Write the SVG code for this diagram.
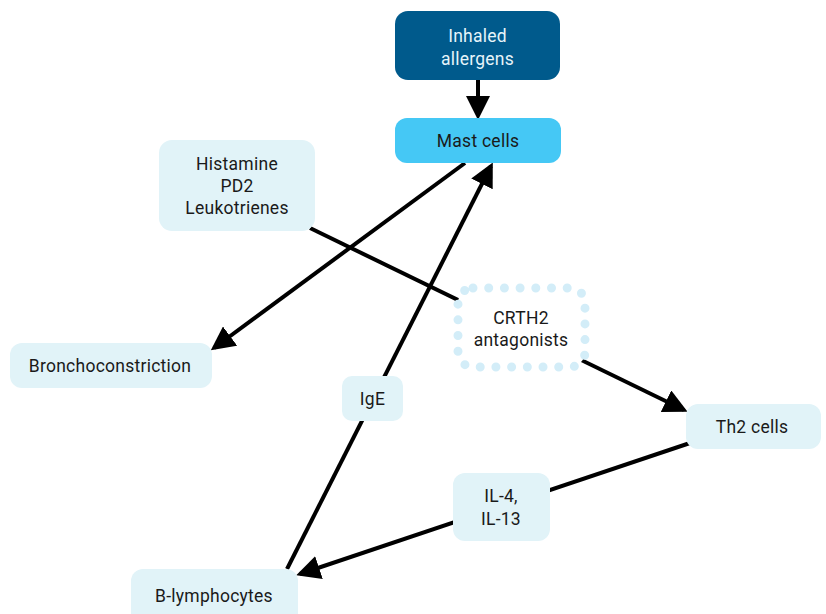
<svg xmlns="http://www.w3.org/2000/svg" width="826" height="614" viewBox="0 0 826 614">
<defs>
<style>
.box{fill:#e1f3f8}
.t{font-family:"Roboto","Liberation Sans",sans-serif;font-size:17.5px;letter-spacing:0.25px;fill:#1a1a1a;text-anchor:middle}
.c{stroke:#000;stroke-width:4;fill:none}
</style>
<marker id="ah" markerWidth="6" markerHeight="6" refX="5" refY="3" orient="auto" markerUnits="strokeWidth">
<path d="M0,0 L6,3 L0,6 z" fill="#000"/>
</marker>
</defs>
<rect width="826" height="614" fill="#fff"/>
<g id="connectors">
<line class="c" x1="478" y1="80" x2="478" y2="116" marker-end="url(#ah)"/>
<line class="c" x1="465" y1="163" x2="214" y2="348" marker-end="url(#ah)"/>
<line class="c" x1="287" y1="569" x2="491" y2="166" marker-end="url(#ah)"/>
<line class="c" x1="310" y1="228" x2="684" y2="410" marker-end="url(#ah)"/>
<line class="c" x1="690" y1="443" x2="300" y2="574" marker-end="url(#ah)"/>
</g>
<g id="inhaled">
<rect x="395" y="11" width="165" height="69" rx="13" fill="#005a8c"/>
<text class="t" x="477.5" y="42" style="fill:#e6f4fa">Inhaled</text>
<text class="t" x="477.5" y="65" style="fill:#e6f4fa">allergens</text>
</g>
<g id="mast">
<rect x="395" y="118" width="166" height="45" rx="12" fill="#45c8f5"/>
<text class="t" x="478" y="147">Mast cells</text>
</g>
<g id="mediators">
<rect class="box" x="159" y="140" width="156" height="91" rx="13"/>
<text class="t" x="237" y="170">Histamine</text>
<text class="t" x="237" y="192">PD2</text>
<text class="t" x="237" y="214">Leukotrienes</text>
</g>
<g id="broncho">
<rect class="box" x="10" y="343" width="202" height="45" rx="12"/>
<text class="t" x="110" y="372">Bronchoconstriction</text>
</g>
<g id="crth2">
<rect x="458" y="288" width="127" height="79" rx="15" fill="#fff" stroke="#d3edf8" stroke-width="9" stroke-linecap="round" stroke-dasharray="0 15.7"/>
<text class="t" x="521" y="324">CRTH2</text>
<text class="t" x="521" y="346">antagonists</text>
</g>
<g id="ige">
<rect class="box" x="342" y="376" width="61" height="45" rx="10"/>
<text class="t" x="372.5" y="405">IgE</text>
</g>
<g id="th2">
<rect class="box" x="686" y="404" width="135" height="45" rx="12"/>
<text class="t" x="752" y="433">Th2 cells</text>
</g>
<g id="il">
<rect class="box" x="453" y="473" width="97" height="68" rx="12"/>
<text class="t" x="501" y="502">IL-4,</text>
<text class="t" x="501" y="525">IL-13</text>
</g>
<g id="blymph">
<rect class="box" x="131" y="569" width="167" height="56" rx="12"/>
<text class="t" x="214" y="602">B-lymphocytes</text>
</g>
</svg>
